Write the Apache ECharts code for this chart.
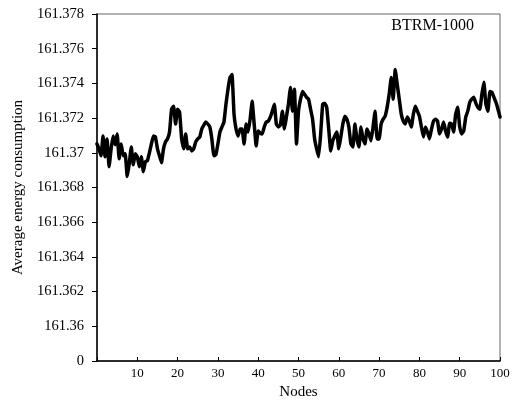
<!DOCTYPE html>
<html><head><meta charset="utf-8">
<script src="https://cdn.jsdelivr.net/npm/echarts@6/dist/echarts.min.js"></script>
<style>html,body{margin:0;padding:0;background:#fff}#c{width:515px;height:405px}</style>
</head><body><div id="c"></div>
<script>
const seriesName = 'BTRM-1000';
const nodes = [0,0.5,1,1.5,2,2.5,3,3.5,4,4.5,5,5.5,6,6.5,7,7.5,8,8.5,9,9.5,10,10.5,11,11.5,12,12.5,13,13.5,14,14.5,15,15.5,16,16.5,17,17.5,18,18.5,19,19.5,20,20.5,21,21.5,22,22.5,23,23.5,24,24.5,25,25.5,26,26.5,27,27.5,28,28.5,29,29.5,30,30.5,31,31.5,32,32.5,33,33.5,34,34.5,35,35.5,36,36.5,37,37.5,38,38.5,39,39.5,40,40.5,41,41.5,42,42.5,43,43.5,44,44.5,45,45.5,46,46.5,47,47.5,48,48.5,49,49.5,50,50.5,51,51.5,52,52.5,53,53.5,54,54.5,55,55.5,56,56.5,57,57.5,58,58.5,59,59.5,60,60.5,61,61.5,62,62.5,63,63.5,64,64.5,65,65.5,66,66.5,67,67.5,68,68.5,69,69.5,70,70.5,71,71.5,72,72.5,73,73.5,74,74.5,75,75.5,76,76.5,77,77.5,78,78.5,79,79.5,80,80.5,81,81.5,82,82.5,83,83.5,84,84.5,85,85.5,86,86.5,87,87.5,88,88.5,89,89.5,90,90.5,91,91.5,92,92.5,93,93.5,94,94.5,95,95.5,96,96.5,97,97.5,98,98.5,99,99.5,100];
const energy = [
161.37051,161.37023,161.36983,161.37097,161.36977,161.37080,161.36920,161.37023,161.37097,161.37046,
161.37109,161.36966,161.37051,161.36983,161.36994,161.36863,161.36937,161.37034,161.36931,161.36994,
161.36977,161.36920,161.36977,161.36891,161.36949,161.36954,161.37000,161.37051,161.37097,161.37091,
161.37023,161.36983,161.36943,161.37023,161.37063,161.37080,161.37120,161.37251,161.37269,161.37166,
161.37251,161.37234,161.37080,161.37023,161.37109,161.37023,161.37034,161.37011,161.37023,161.37063,
161.37080,161.37091,161.37137,161.37160,161.37177,161.37166,161.37149,161.37080,161.36983,161.36989,
161.37051,161.37120,161.37149,161.37177,161.37280,161.37366,161.37434,161.37451,161.37223,161.37137,
161.37097,161.37137,161.37137,161.37051,161.37166,161.37120,161.37194,161.37297,161.37166,161.37040,
161.37126,161.37114,161.37109,161.37149,161.37177,161.37183,161.37206,161.37240,161.37280,161.37166,
161.37149,161.37160,161.37240,161.37137,161.37206,161.37280,161.37377,161.37240,161.37366,161.37051,
161.37240,161.37309,161.37354,161.37337,161.37320,161.37309,161.37251,161.37194,161.37080,161.37023,
161.36977,161.37109,161.37280,161.37286,161.37263,161.37137,161.37011,161.37069,161.37097,161.37120,
161.37023,161.37091,161.37166,161.37211,161.37194,161.37149,161.37051,161.37034,161.37166,161.37080,
161.37034,161.37149,161.37080,161.37051,161.37137,161.37109,161.37069,161.37149,161.37240,161.37080,
161.37080,161.37166,161.37194,161.37211,161.37263,161.37337,161.37434,161.37309,161.37480,161.37394,
161.37309,161.37223,161.37183,161.37166,161.37206,161.37183,161.37149,161.37223,161.37269,161.37240,
161.37211,161.37149,161.37091,161.37149,161.37120,161.37080,161.37137,161.37183,161.37194,161.37183,
161.37109,161.37137,161.37177,161.37126,161.37091,161.37171,161.37166,161.37120,161.37223,161.37263,
161.37149,161.37109,161.37126,161.37206,161.37240,161.37291,161.37309,161.37320,161.37286,161.37263,
161.37251,161.37337,161.37406,161.37280,161.37240,161.37354,161.37349,161.37320,161.37291,161.37251,
161.37206];
const yTickLabels = ['0','161.36','161.362','161.364','161.366','161.368','161.37','161.372','161.374','161.376','161.378'];
const xTickLabels = ['','10','20','30','40','50','60','70','80','90','100'];
const xName = 'Nodes';
const yName = 'Average energy consumption';

const chart = echarts.init(document.getElementById('c'), null, {renderer:'canvas'});
const font = 'Liberation Serif';
chart.setOption({
  animation:false,
  backgroundColor:'#fff',
  grid:{left:97,right:15,top:14,bottom:41,show:true,borderColor:'#666',borderWidth:1},
  title:{text:seriesName,right:36,top:13,textStyle:{fontFamily:font,fontSize:16,fontWeight:'normal',color:'#000'}},
  xAxis:{type:'value',min:0,max:100,interval:10,
    name:xName,nameLocation:'middle',nameGap:24,
    nameTextStyle:{fontFamily:font,fontSize:15,color:'#000'},
    axisLine:{lineStyle:{color:'#000',width:1.5}},
    axisTick:{inside:true,length:4,lineStyle:{color:'#000'}},
    axisLabel:{fontFamily:font,fontSize:13,color:'#000',margin:6,formatter:(v,i)=>xTickLabels[i]},
    splitLine:{show:false}},
  yAxis:{type:'value',min:161.358,max:161.378,interval:0.002,
    name:yName,nameLocation:'middle',nameGap:70,
    nameTextStyle:{fontFamily:font,fontSize:15,color:'#000'},
    axisLine:{show:true,lineStyle:{color:'#000',width:1.5}},
    axisTick:{show:true,length:5,lineStyle:{color:'#000'}},
    axisLabel:{fontFamily:font,fontSize:14.5,color:'#000',margin:13,formatter:(v,i)=>yTickLabels[i]},
    splitLine:{show:false}},
  series:[{type:'line',name:seriesName,data:nodes.map((n,i)=>[n,energy[i]]),
    showSymbol:false,smooth:0.1,lineStyle:{color:'#000',width:3.5,join:'round',cap:'round'},itemStyle:{color:'#000'}}]
});
</script></body></html>
